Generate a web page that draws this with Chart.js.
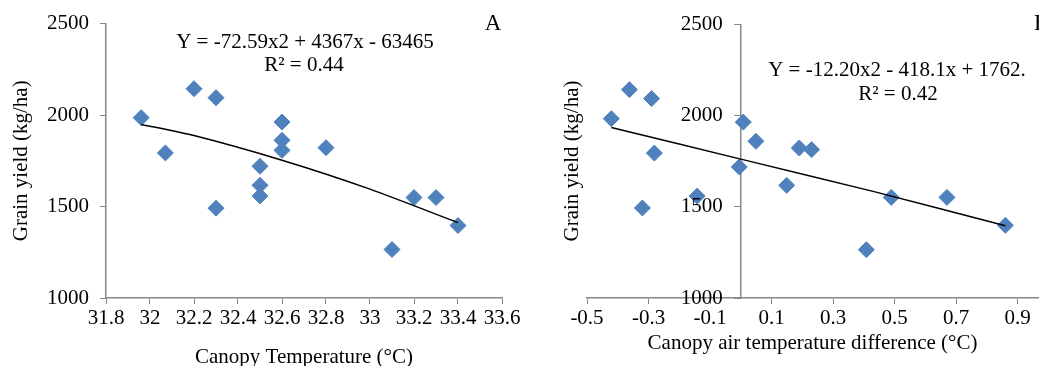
<!DOCTYPE html>
<html>
<head>
<meta charset="utf-8">
<script src="https://cdn.jsdelivr.net/npm/chart.js@4/dist/chart.umd.min.js"></script>
<style>
  html, body { margin: 0; padding: 0; background: #fff; }
  #wrap { position: relative; width: 1039px; height: 366px; overflow: hidden; }
  canvas { position: absolute; top: 0; }
  #cA { left: 0; }
  #cB { left: 520px; }
</style>
</head>
<body>
<div id="wrap">
  <canvas id="cA" width="520" height="366"></canvas>
  <canvas id="cB" width="527" height="366"></canvas>
</div>
<script>
// ---- Panel A: Canopy temperature vs grain yield ----
const canopyTemp = [31.96, 32.07, 32.2, 32.3, 32.3, 32.5, 32.5, 32.5, 32.6, 32.6, 32.6, 32.8, 33.1, 33.2, 33.3, 33.4];
const yieldA     = [1986, 1793, 2144, 2095, 1491, 1720, 1616, 1558, 1962, 1862, 1807, 1822, 1265, 1549, 1549, 1396];
const trendAX    = [31.96, 32.2, 32.6, 33.0, 33.4];
const trendAY    = [1949, 1888, 1753, 1595, 1412];
const ticksAX    = [31.8, 32, 32.2, 32.4, 32.6, 32.8, 33, 33.2, 33.4, 33.6];

// ---- Panel B: Canopy-air temperature difference vs grain yield ----
const tempDiff   = [-0.421, -0.362, -0.290, -0.281, -0.320, -0.142, -0.005, 0.008, 0.049, 0.149, 0.19, 0.23, 0.408, 0.489, 0.670, 0.860];
const yieldB     = [1984, 2143, 2094, 1795, 1494, 1559, 1719, 1965, 1860, 1618, 1823, 1814, 1265, 1552, 1552, 1399];
const trendBX    = [-0.421, 0, 0.43, 0.86];
const trendBY    = [1936, 1762, 1585, 1396];
const ticksBX    = [-0.5, -0.3, -0.1, 0.1, 0.3, 0.5, 0.7, 0.9];

const ticksY     = [1000, 1500, 2000, 2500];

const FONT = 'Liberation Serif, Times New Roman, serif';
const AXIS = '#868686';
const BLUE = '#4F81BD';

function pts(xs, ys) { return xs.map((x, i) => ({x: x, y: ys[i]})); }

function textPlugin(items, drawYLabels) {
  return {
    id: 'txt',
    afterDraw(chart) {
      const ctx = chart.ctx;
      ctx.save();
      ctx.fillStyle = '#000';
      if (drawYLabels) {
        const xs = chart.scales.x, ys = chart.scales.y;
        const ax = xs.getPixelForValue(0);
        ctx.font = '21px ' + FONT;
        ctx.textAlign = 'right';
        ctx.textBaseline = 'middle';
        ticksY.forEach(v => ctx.fillText(String(v), ax - 18, ys.getPixelForValue(v)));
      }
      items.forEach(it => {
        ctx.save();
        ctx.font = (it.size || 21) + 'px ' + FONT;
        ctx.textAlign = it.align || 'center';
        ctx.textBaseline = 'middle';
        ctx.translate(it.x, it.y);
        if (it.rot) ctx.rotate(it.rot);
        ctx.fillText(it.text, 0, 0);
        ctx.restore();
      });
      ctx.restore();
    }
  };
}

function makeChart(id, cfg) {
  const fmt = cfg.fmt;
  return new Chart(document.getElementById(id), {
    type: 'scatter',
    data: {
      datasets: [
        {
          type: 'line',
          data: pts(cfg.tx, cfg.ty),
          borderColor: '#000',
          borderWidth: 1.5,
          pointRadius: 0,
          fill: false,
          tension: 0.2
        },
        {
          data: pts(cfg.px, cfg.py),
          pointStyle: 'rectRot',
          pointRadius: 8,
          pointHoverRadius: 8,
          backgroundColor: BLUE,
          borderColor: BLUE,
          borderWidth: 1
        }
      ]
    },
    options: {
      responsive: false,
      animation: false,
      devicePixelRatio: 1,
      layout: { padding: cfg.padding },
      plugins: { legend: { display: false }, tooltip: { enabled: false } },
      scales: {
        x: {
          type: 'linear',
          bounds: 'data',
          min: cfg.xmin, max: cfg.xmax,
          afterBuildTicks: s => { s.ticks = cfg.xticks.map(v => ({value: v})); },
          afterFit: s => { s.height = 68; s.paddingLeft = 0; s.paddingRight = 0; },
          grid: { drawOnChartArea: false, drawTicks: true, tickLength: 6, tickColor: AXIS },
          border: { display: true, color: AXIS, width: 1.5 },
          ticks: {
            color: '#000', font: { family: FONT, size: 21 }, padding: 2,
            maxRotation: 0, autoSkip: false,
            callback: v => fmt(v)
          },
          title: {
            display: true, text: cfg.xtitle, color: '#000',
            font: { family: FONT, size: 21 },
            padding: { top: 0, bottom: cfg.xtitlePad }
          }
        },
        y: {
          type: 'linear',
          position: cfg.ypos,
          min: 1000, max: 2500,
          afterBuildTicks: s => { s.ticks = ticksY.map(v => ({value: v})); },
          afterFit: cfg.yfit,
          grid: { drawOnChartArea: false, drawTicks: true, tickLength: 6, tickColor: AXIS },
          border: { display: true, color: AXIS, width: 1.5 },
          ticks: {
            color: cfg.ytickColor, font: { family: FONT, size: 21 }, padding: cfg.ypad,
            callback: v => String(v)
          },
          title: {
            display: cfg.ytitle, text: 'Grain yield (kg/ha)', color: '#000',
            font: { family: FONT, size: 21 },
            padding: { top: 9, bottom: 0 }
          }
        }
      }
    },
    plugins: [textPlugin(cfg.texts, cfg.drawYLabels)]
  });
}

makeChart('cA', {
  px: canopyTemp, py: yieldA, tx: trendAX, ty: trendAY,
  xmin: 31.8, xmax: 33.6, xticks: ticksAX,
  fmt: v => String(Number(v.toFixed(1))),
  xtitle: 'Canopy Temperature (°C)', xtitlePad: -4,
  ypos: 'left', ytitle: true, ypad: 11, ytickColor: '#000', drawYLabels: false,
  yfit: s => { s.width = 106; },
  padding: { left: 0, right: 18, top: 23, bottom: 0 },
  texts: [
    { text: 'Y = -72.59x2 + 4367x - 63465', x: 305, y: 42 },
    { text: 'R² = 0.44', x: 304, y: 65 },
    { text: 'A', x: 493, y: 24, size: 23 }
  ]
});

makeChart('cB', {
  px: tempDiff, py: yieldB, tx: trendBX, ty: trendBY,
  xmin: -0.5, xmax: 0.966, xticks: ticksBX,
  fmt: v => v.toFixed(1),
  xtitle: 'Canopy air temperature difference (°C)', xtitlePad: 10,
  ypos: { x: 0 }, ytitle: false, ypad: 12, ytickColor: 'rgba(0,0,0,0)', drawYLabels: true,
  yfit: s => { s.width = 0; s.paddingLeft = 0; s.paddingRight = 0; },
  padding: { left: 67, right: 0, top: 23, bottom: 0 },
  texts: [
    { text: 'Y = -12.20x2 - 418.1x + 1762.', x: 377, y: 70 },
    { text: 'R² = 0.42', x: 378, y: 94 },
    { text: 'Grain yield (kg/ha)', x: 52, y: 161, rot: -Math.PI / 2 },
    { text: 'B', x: 514, y: 24, size: 23, align: 'left' }
  ]
});
</script>
</body>
</html>
